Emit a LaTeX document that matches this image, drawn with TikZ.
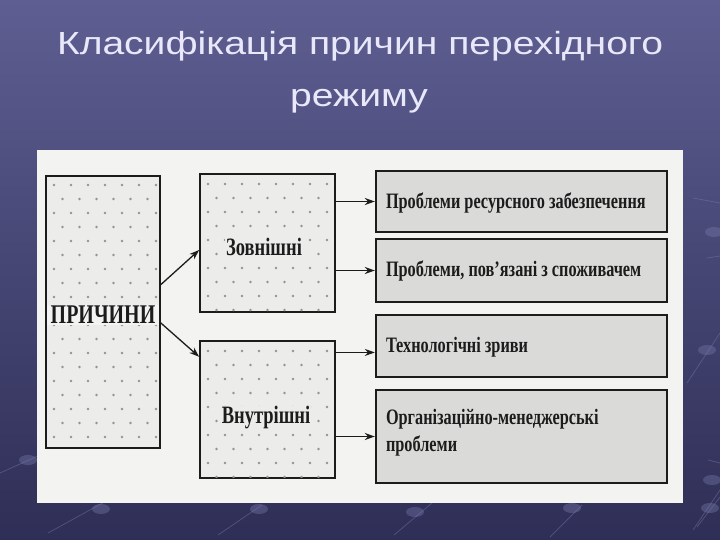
\documentclass[tikz,border=0pt]{standalone}
\usepackage{fontspec}
\usetikzlibrary{arrows.meta,calc}
\newfontfamily\titlef[FakeStretch=1.22]{Liberation Sans}
\newfontfamily\condf[FakeStretch=0.74]{Liberation Serif}
\definecolor{bgtop}{RGB}{94,94,146}
\definecolor{bgbot}{RGB}{46,46,86}
\definecolor{titlec}{RGB}{232,232,250}
\definecolor{panelc}{RGB}{243,243,241}
\definecolor{dotboxc}{RGB}{236,236,234}
\definecolor{grayboxc}{RGB}{218,218,216}
\definecolor{inkc}{RGB}{28,28,28}
\definecolor{decoc}{RGB}{120,120,170}
\tikzset{
  dotbox/.style={draw=inkc, line width=1.6pt, fill=dotboxc, inner sep=0pt},
  graybox/.style={draw=inkc, line width=2.4pt, fill=grayboxc, inner sep=0pt},
  boxtext/.style={font=\condf\bfseries\fontsize{22}{27}\selectfont, text=inkc, inner sep=0pt, align=left},
  sidetext/.style={font=\condf\bfseries\fontsize{25}{28}\selectfont, text=inkc, inner sep=1pt},
  arr/.style={draw=inkc, line width=1.3pt, -{Stealth[length=10pt,width=7pt]}},
  deco/.style={draw=decoc, line width=0.8pt, opacity=0.45},
  decodot/.style={fill=decoc, opacity=0.4},
  dotc/.style={fill=gray!85},
}
\begin{document}
\begin{tikzpicture}[x=1pt,y=-1pt]
\useasboundingbox (0,0) rectangle (720,540);
\shade[top color=bgtop, bottom color=bgbot] (0,0) rectangle (720,540);
% decorative background elements
\foreach \ax/\ay/\bx/\by in {48/533/108/500, 218/535/262/505, 394/535/432/503, 550/537/582/505, 697/527/720/497, 687/383/720/333, 693/530/720/490, 0/473/40/455, 693/198/720/203, 707/258/720/256, 708/460/720/463}
  \draw[deco] (\ax,\ay) -- (\bx,\by);
\foreach \cx/\cy in {101/509, 259/509, 415/512, 572/508, 710/508, 714/232, 707/350, 28/460, 712/480}
  \fill[decodot] (\cx,\cy) ellipse (9 and 5);
% title
\node[font=\titlef\fontsize{32}{38}\selectfont, text=titlec, anchor=base, inner sep=0pt] (t1) at (360,55) {Класифікація причин перехідного};
\node[font=\titlef\fontsize{32}{38}\selectfont, text=titlec, anchor=base, inner sep=0pt] (t2) at (359,107) {режиму};
% panel
\fill[panelc] (37,150) rectangle (683,503);
% left boxes
\node[dotbox, minimum width=114pt, minimum height=272pt] (prich) at (103,312) {};
\node[dotbox, minimum width=135pt, minimum height=138pt] (zovn) at (267.5,243) {};
\node[dotbox, minimum width=135pt, minimum height=137pt] (vnut) at (267.5,409.5) {};
% dots
\begin{scope}
\clip (47,177) rectangle (159,447);
\foreach \r in {0,...,19} {
  \pgfmathsetmacro{\yy}{185+\r*14}
  \pgfmathsetmacro{\off}{mod(\r,2)*8.5}
  \foreach \c in {0,...,6}
    \fill[dotc] ({54+\off+\c*17},\yy) circle (1.4);
}
\end{scope}
\begin{scope}
\clip (201,175) rectangle (334,311);
\foreach \r in {0,...,9} {
  \pgfmathsetmacro{\yy}{184+\r*14}
  \pgfmathsetmacro{\off}{mod(\r,2)*8.5}
  \foreach \c in {0,...,7}
    \fill[dotc] ({208+\off+\c*17},\yy) circle (1.4);
}
\end{scope}
\begin{scope}
\clip (201,342) rectangle (334,477);
\foreach \r in {0,...,9} {
  \pgfmathsetmacro{\yy}{351+\r*14}
  \pgfmathsetmacro{\off}{mod(\r,2)*8.5}
  \foreach \c in {0,...,7}
    \fill[dotc] ({208+\off+\c*17},\yy) circle (1.4);
}
\end{scope}
\node[sidetext, fill=panelc, minimum width=112pt, font=\condf\bfseries\fontsize{27}{30}\selectfont] (prt) at (103,315) {ПРИЧИНИ};
\node[sidetext, fill=dotboxc] (zt) at (264,247) {Зовнішні};
\node[sidetext, fill=dotboxc] (vt) at (266,418) {Внутрішні};
% right boxes
\node[graybox, minimum width=291pt, minimum height=61pt] (r1) at (521.5,201.5) {};
\node[graybox, minimum width=291pt, minimum height=63pt] (r2) at (521.5,270.5) {};
\node[graybox, minimum width=291pt, minimum height=62pt] (r3) at (521.5,346) {};
\node[graybox, minimum width=291pt, minimum height=93pt] (r4) at (521.5,436.5) {};
\node[boxtext, anchor=west] (r1t) at ($(r1.west)+(11,1)$) {Проблеми ресурсного забезпечення};
\node[boxtext, anchor=west] (r2t) at ($(r2.west)+(11,0)$) {Проблеми, пов’язані з споживачем};
\node[boxtext, anchor=west] (r3t) at ($(r3.west)+(11,1)$) {Технологічні зриви};
\node[boxtext, anchor=west] (r4t) at ($(r4.west)+(11,-4)$) {Організаційно-менеджерські\\проблеми};
% connectors
\draw[arr] ($(prich.north east)!0.40!(prich.south east)$) -- ($(zovn.north west)!0.55!(zovn.south west)$);
\draw[arr] ($(prich.north east)!0.54!(prich.south east)$) -- ($(vnut.north west)!0.12!(vnut.south west)$);
\draw[arr] (zovn.east |- r1.west) -- (r1.west);
\draw[arr] (zovn.east |- r2.west) -- (r2.west);
\coordinate (r3in) at ($(r3.north west)!0.6!(r3.south west)$);
\draw[arr] (vnut.east |- r3in) -- (r3in);
\draw[arr] (vnut.east |- r4.west) -- (r4.west);
\end{tikzpicture}
\end{document}
